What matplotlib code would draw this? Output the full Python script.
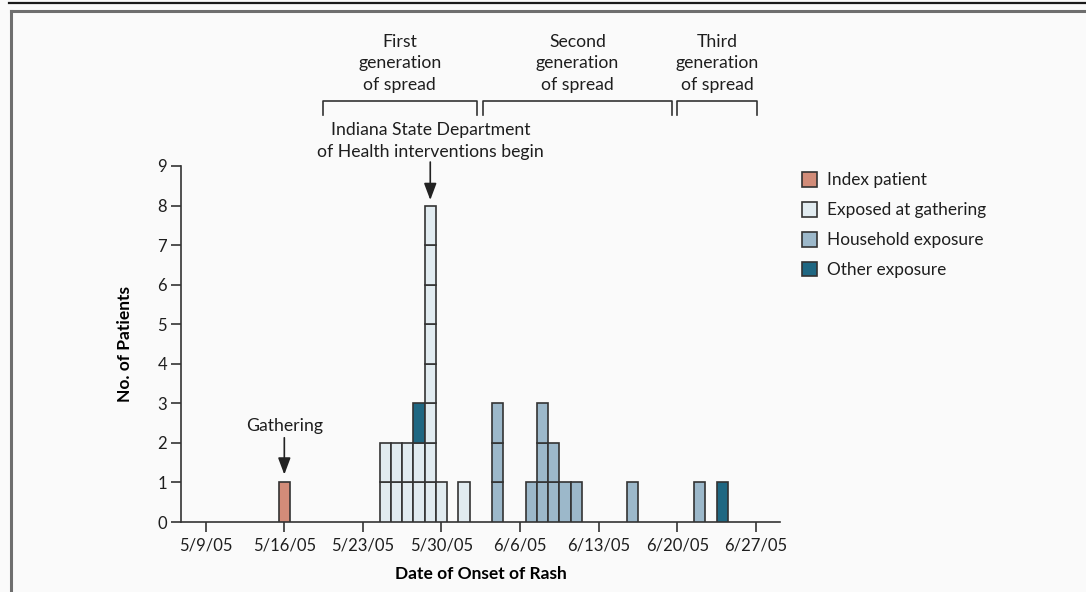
import matplotlib.pyplot as plt
import matplotlib.dates as mdates
from matplotlib.lines import Line2D
from matplotlib.patches import Patch

# --- data ---
onset_dates = ["2005-05-16", "2005-05-25", "2005-05-26", "2005-05-27", "2005-05-28",
               "2005-05-29", "2005-05-30", "2005-06-01", "2005-06-04", "2005-06-07",
               "2005-06-08", "2005-06-09", "2005-06-10", "2005-06-11", "2005-06-16",
               "2005-06-22", "2005-06-24"]
index_patient = [1, 0, 0, 0, 0, 0, 0, 0, 0, 0, 0, 0, 0, 0, 0, 0, 0]
exposed_gathering = [0, 2, 2, 2, 2, 8, 1, 1, 0, 0, 0, 0, 0, 0, 0, 0, 0]
household = [0, 0, 0, 0, 0, 0, 0, 0, 3, 1, 3, 2, 1, 1, 1, 1, 0]
other = [0, 0, 0, 0, 1, 0, 0, 0, 0, 0, 0, 0, 0, 0, 0, 0, 1]

categories = ["Index patient", "Exposed at gathering", "Household exposure", "Other exposure"]
colors = ["#D28C79", "#E1EBF0", "#9CB8CA", "#1F6782"]

tick_dates = ["2005-05-09", "2005-05-16", "2005-05-23", "2005-05-30",
              "2005-06-06", "2005-06-13", "2005-06-20", "2005-06-27"]
tick_labels = ["5/9/05", "5/16/05", "5/23/05", "5/30/05",
               "6/6/05", "6/13/05", "6/20/05", "6/27/05"]

generations = ["First\ngeneration\nof spread", "Second\ngeneration\nof spread",
               "Third\ngeneration\nof spread"]
gen_spans = [("2005-05-19 10:00", "2005-06-02 04:00"),
             ("2005-06-02 17:00", "2005-06-19 12:00"),
             ("2005-06-20 00:00", "2005-06-27 02:00")]

gathering_date = "2005-05-16"
intervention_date = "2005-05-29"

# --- style ---
plt.rcParams.update({
    "font.family": ["Lato", "DejaVu Sans"],
    "font.size": 12.7,
    "text.color": "#1e1e1e",
    "axes.edgecolor": "#333333",
    "xtick.color": "#333333",
    "ytick.color": "#333333",
    "xtick.labelcolor": "#1e1e1e",
    "ytick.labelcolor": "#1e1e1e",
})
EDGE = "#333333"
ARROW = dict(arrowstyle="-|>,head_length=0.8,head_width=0.3",
             color="#222222", lw=1.2, shrinkA=0, shrinkB=0)


def d(s):
    return mdates.datestr2num(s)


fig = plt.figure(figsize=(10.86, 5.92), dpi=100, facecolor="#fafafa")
ax = fig.add_axes([0.1667, 0.1182, 0.5515, 0.6014])
ax.set_facecolor("#fafafa")

# one outlined box per patient, stacked by exposure type
series = [index_patient, exposed_gathering, household, other]
for i, date in enumerate(onset_dates):
    base = 0
    for counts, col in zip(series, colors):
        for _ in range(counts[i]):
            ax.bar(d(date), 1, bottom=base, width=1.0, color=col,
                   edgecolor=EDGE, linewidth=1.2, zorder=3)
            base += 1

ax.set_ylim(0, 9)
ax.set_yticks(range(10))
ax.set_xlim(d(tick_dates[0]) - 2.2, d(tick_dates[-1]) + 2.15)
ax.set_xticks([d(t) for t in tick_dates])
ax.set_xticklabels(tick_labels)

for s in ["top", "right"]:
    ax.spines[s].set_visible(False)
for s in ["left", "bottom"]:
    ax.spines[s].set_linewidth(1.2)
ax.tick_params(axis="both", length=7, width=1.2, direction="out", labelsize=12)
ax.tick_params(axis="x", pad=4)
ax.tick_params(axis="y", pad=3)

ax.set_xlabel("Date of Onset of Rash", fontweight="bold", fontsize=12.5, labelpad=9)
ax.set_ylabel("No. of Patients", fontweight="bold", fontsize=12.5, labelpad=17.5)

# Gathering annotation
ax.annotate("", xy=(d(gathering_date), 1.2), xytext=(d(gathering_date), 2.13),
            arrowprops=ARROW)
ax.text(d(gathering_date), 2.42, "Gathering", ha="center", va="center")

# Intervention annotation
ax.annotate("", xy=(d(intervention_date), 8.14), xytext=(d(intervention_date), 9.1),
            arrowprops=ARROW, annotation_clip=False)
ax.text(d(intervention_date), 9.63, "Indiana State Department\nof Health interventions begin",
        ha="center", va="center", linespacing=1.4, clip_on=False)

# generation brackets
for label, (a, b) in zip(generations, gen_spans):
    xa, xb = d(a), d(b)
    ax.plot([xa, xa, xb, xb], [10.29, 10.64, 10.64, 10.29], color=EDGE, lw=1.2,
            clip_on=False)
    ax.text((xa + xb) / 2, 11.6, label, ha="center", va="center",
            linespacing=1.42, clip_on=False)

# legend
handles = [Patch(facecolor=c, edgecolor=EDGE, linewidth=1.2, label=l)
           for c, l in zip(colors, categories)]
ax.legend(handles=handles, loc="upper left", bbox_to_anchor=(1.036, 0.983),
          frameon=False, handlelength=0.92, handleheight=0.92,
          handletextpad=0.55, labelspacing=0.8, borderpad=0, borderaxespad=0,
          fontsize=12.4)

# outer frame lines
fig.add_artist(Line2D([9 / 1086, 1], [1 - 2.5 / 592] * 2, color="#1a1a1a", lw=1.6,
                      transform=fig.transFigure))
fig.add_artist(Line2D([10.5 / 1086, 1], [1 - 10.5 / 592] * 2, color="#6e6e6e", lw=2.2,
                      transform=fig.transFigure))
fig.add_artist(Line2D([10.5 / 1086] * 2, [0, 1 - 10.5 / 592], color="#6e6e6e", lw=2.2,
                      transform=fig.transFigure))

fig.savefig("out.png", dpi=100, facecolor=fig.get_facecolor())
